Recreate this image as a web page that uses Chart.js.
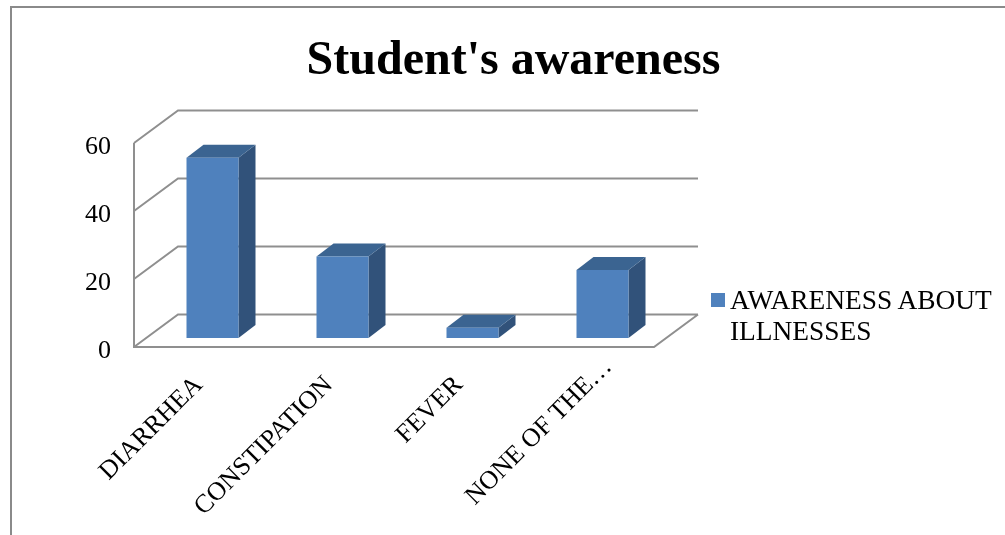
<!DOCTYPE html>
<html lang="en">
<head>
  <meta charset="UTF-8" />
  <title>Student's awareness</title>
  <script src="https://cdn.jsdelivr.net/npm/chart.js"></script>
  <style>
    html, body { margin: 0; padding: 0; background: #fff; overflow: hidden; }
    #frame { position: absolute; left: 10px; top: 6px; width: 1000px; height: 540px;
             border-left: 2px solid #8a8a8a; border-top: 2px solid #8a8a8a; }
    #chart { position: absolute; left: 0; top: 0; }
    /* legend sits to the right of the floor */
    #legend { position: absolute; left: 711px; top: 285px; width: 290px;
              font: 27.4px/31px "Liberation Serif", serif; color: #000; }
    #legend i { position: absolute; left: 0; top: 8px; width: 14px; height: 14px; background: #4f81bd; }
    #legend span { display: block; margin-left: 19px; white-space: nowrap; }
  </style>
</head>
<body>
  <div id="frame"></div>
  <canvas id="chart" width="1005" height="535"></canvas>
  <div id="legend"><i></i><span>AWARENESS ABOUT</span><span>ILLNESSES</span></div>

  <script>
    const categories = ['DIARRHEA', 'CONSTIPATION', 'FEVER', 'NONE OF THE…'];
    const awareness = [53, 24, 3, 20];
    const seriesName = 'AWARENESS ABOUT ILLNESSES';
    const yMax = 60;
    const yStep = 20;

    const FONT = '"Liberation Serif", serif';
    const GRID = '#8f8f8f';
    const DEPTH_X = 44, DEPTH_Y = 32.5;       // floor depth of the 3D box
    const BAR_DX = 13.5, BAR_DY = 9;          // bars stand in the middle of the floor
    const BAR_SIDE_X = 17, BAR_SIDE_Y = 13;   // depth of each bar

    // back wall, side wall and floor, behind the bars
    const box3d = {
      id: 'box3d',
      beforeDatasetsDraw(chart) {
        const { ctx, chartArea: a, scales: { y } } = chart;
        ctx.save();
        ctx.strokeStyle = GRID;
        ctx.lineWidth = 2;
        ctx.beginPath();
        y.ticks.forEach(t => {
          const py = y.getPixelForValue(t.value);
          ctx.moveTo(a.left, py);
          ctx.lineTo(a.left + DEPTH_X, py - DEPTH_Y);
          ctx.lineTo(a.right + DEPTH_X, py - DEPTH_Y);
        });
        ctx.moveTo(a.left, a.top);
        ctx.lineTo(a.left, a.bottom);
        ctx.lineTo(a.right, a.bottom);
        ctx.lineTo(a.right + DEPTH_X, a.bottom - DEPTH_Y);
        ctx.stroke();
        ctx.restore();
      },
      // side and top faces first, then the library draws the front face shifted back
      beforeDatasetDraw(chart, args) {
        const { ctx } = chart;
        ctx.save();
        ctx.translate(BAR_DX, -BAR_DY);
        args.meta.data.forEach(bar => {
          const l = bar.x - bar.width / 2, r = bar.x + bar.width / 2;
          ctx.fillStyle = '#31527a';
          ctx.beginPath();
          ctx.moveTo(r, bar.y);
          ctx.lineTo(r + BAR_SIDE_X, bar.y - BAR_SIDE_Y);
          ctx.lineTo(r + BAR_SIDE_X, bar.base - BAR_SIDE_Y);
          ctx.lineTo(r, bar.base);
          ctx.closePath();
          ctx.fill();
          ctx.fillStyle = '#3b6491';
          ctx.beginPath();
          ctx.moveTo(l, bar.y);
          ctx.lineTo(l + BAR_SIDE_X, bar.y - BAR_SIDE_Y);
          ctx.lineTo(r + BAR_SIDE_X, bar.y - BAR_SIDE_Y);
          ctx.lineTo(r, bar.y);
          ctx.closePath();
          ctx.fill();
        });
      },
      afterDatasetDraw(chart) {
        chart.ctx.restore();
      }
    };

    // the shortened label runs further up the axis than the others
    const nudgeTruncated = {
      id: 'nudgeTruncated',
      afterLayout(chart) {
        const x = chart.scales.x;
        x.getLabelItems().forEach(item => {
          if (String(item.label).endsWith('…')) {
            item.options.translation[0] += 19;
            item.options.translation[1] -= 18;
          }
        });
      }
    };

    new Chart(document.getElementById('chart').getContext('2d'), {
      type: 'bar',
      data: {
        labels: categories,
        datasets: [{
          label: seriesName,
          data: awareness,
          backgroundColor: '#4f81bd',
          barPercentage: 0.4,
          categoryPercentage: 1
        }]
      },
      plugins: [box3d, nudgeTruncated],
      options: {
        responsive: false,
        animation: false,
        layout: { padding: { left: 22, right: 0, top: 0, bottom: 0 } },
        plugins: {
          legend: { display: false },
          tooltip: { enabled: false },
          title: {
            display: true,
            text: "Student's awareness",
            color: '#000',
            font: { family: FONT, size: 48, weight: 'bold', lineHeight: 1.2 },
            padding: { top: 33, bottom: 52.4 }
          }
        },
        scales: {
          x: {
            grid: { display: false },
            border: { display: false },
            ticks: {
              color: '#000',
              font: { family: FONT, size: 26 },
              minRotation: 45,
              maxRotation: 45,
              autoSkip: false,
              padding: 15
            },
            afterFit(scale) {
              scale.height = 188;
              scale.paddingLeft = 0;
              scale.paddingRight = 0;
            }
          },
          y: {
            min: 0,
            max: yMax,
            grid: { display: false },
            border: { display: false },
            ticks: {
              stepSize: yStep,
              color: '#000',
              font: { family: FONT, size: 26 },
              padding: 15,
              labelOffset: 4
            },
            afterFit(scale) {
              scale.width = 112;
            }
          },
          // keeps the right part of the canvas free for the legend
          spacer: {
            position: 'right',
            grid: { display: false },
            border: { display: false },
            ticks: { display: false },
            afterFit(scale) {
              scale.width = 351;
            }
          }
        }
      }
    });
  </script>
</body>
</html>
